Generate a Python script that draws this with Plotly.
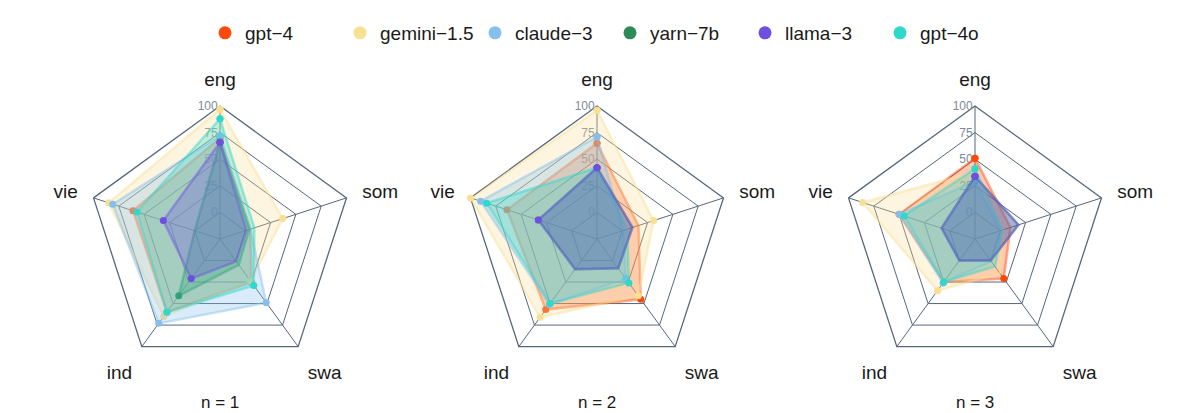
import plotly.graph_objects as go

# page is 1196x413 but the html body has an 8px margin
OFF = 8
W, H = 1196 - OFF, 413 - OFF

langs = ["eng", "som", "swa", "ind", "vie"]
models = ["gpt−4", "gemini−1.5", "claude−3", "yarn−7b", "llama−3", "gpt−4o"]
colors = ["#FF4A0A", "#F7DF94", "#86BFEB", "#2E8B57", "#6E4FE0", "#2ED8CB"]
panel_titles = ["n = 1", "n = 2", "n = 3"]

# scores per model, order follows langs
n1_gpt4    = [70, 5, 25, 60, 61]
n1_gemini  = [97, 37, 24, 65, 85]
n1_claude  = [72, 5, 49, 73, 81]
n1_yarn    = [66, 4, 5, 41, 0]
n1_llama   = [66, 1, 1, 21, 31]
n1_gpt4o   = [88, 9, 29, 60, 57]

n2_gpt4    = [65, 16, 45, 57, 64]
n2_gemini  = [96, 31, 41, 66, 100]
n2_claude  = [71, 1, 21, 51, 90]
n2_yarn    = [42, 10, 9, 10, 33]
n2_llama   = [42, 10, 9, 10, 33]
n2_gpt4o   = [42, 5, 26, 50, 84]

n3_gpt4    = [51, 10, 21, 25, 50]
n3_gemini  = [38, 3, 15, 35, 86]
n3_claude  = [29, 0, 1, 26, 50]
n3_yarn    = [34, 18, 0, 0, 8]
n3_llama   = [34, 18, 0, 0, 8]
n3_gpt4o   = [41, 2, 7, 25, 45]

panels = [
    [n1_gpt4, n1_gemini, n1_claude, n1_yarn, n1_llama, n1_gpt4o],
    [n2_gpt4, n2_gemini, n2_claude, n2_yarn, n2_llama, n2_gpt4o],
    [n3_gpt4, n3_gemini, n3_claude, n3_yarn, n3_llama, n3_gpt4o],
]
# llama is painted last so its outline sits on top
draw_order = [0, 1, 2, 3, 5, 4]

GRID = "#56677A"
FONT = "Liberation Sans, Arial, sans-serif"


def rgba(hexc, a):
    h = hexc.lstrip("#")
    return "rgba(%d,%d,%d,%s)" % (int(h[0:2], 16), int(h[2:4], 16), int(h[4:6], 16), a)


def px(x):
    return (x - OFF) / W


def py(y):
    return 1 - (y - OFF) / H


fig = go.Figure()

centers_px = [220, 597, 975]
R = 133
cy = 239

for p, rows in enumerate(panels):
    sub = "polar" if p == 0 else "polar%d" % (p + 1)
    for i in draw_order:
        c, vals = colors[i], rows[i]
        fig.add_trace(go.Scatterpolar(
            r=vals + vals[:1], theta=langs + langs[:1], subplot=sub,
            mode="lines+markers", fill="toself",
            fillcolor=rgba(c, 0.3), line=dict(color=rgba(c, 0.45), width=2.5),
            marker=dict(color=c, size=7), name=models[i], showlegend=False,
        ))

for name, c in zip(models, colors):
    fig.add_trace(go.Scatterpolar(r=[None], theta=[None], mode="markers",
                                  marker=dict(color=c, size=13), name=name, subplot="polar"))

polar_common = dict(
    bgcolor="rgba(0,0,0,0)",
    gridshape="linear",
    radialaxis=dict(range=[-25, 100], tickvals=[0, 25, 50, 75, 100], angle=90, tickangle=90,
                    side="counterclockwise", showline=False, gridcolor=GRID, gridwidth=1.2,
                    tickfont=dict(size=12, color="#7D8A99"), layer="below traces"),
    angularaxis=dict(direction="clockwise", rotation=90, showline=True, linecolor=GRID,
                     gridcolor=GRID, gridwidth=1.2, linewidth=1.3,
                     tickfont=dict(size=19, color="#1a1a1a"),
                     ticks="outside", ticklen=12, tickcolor="rgba(0,0,0,0)", layer="below traces"),
)

layout_polars = {}
for p, cx in enumerate(centers_px):
    key = "polar" if p == 0 else "polar%d" % (p + 1)
    d = dict(polar_common)
    d["domain"] = dict(x=[px(cx - R), px(cx + R)], y=[py(cy + R), py(cy - R)])
    layout_polars[key] = d

annotations = [
    dict(text=t, x=px(cx), y=py(402), xref="paper", yref="paper", showarrow=False,
         font=dict(size=17, color="#1a1a1a"), xanchor="center", yanchor="middle")
    for t, cx in zip(panel_titles, centers_px)
]

fig.update_layout(
    width=W, height=H,
    margin=dict(l=0, r=0, t=0, b=0),
    paper_bgcolor="white", plot_bgcolor="white",
    font=dict(family=FONT, color="#1a1a1a"),
    legend=dict(orientation="h", x=px(610), xanchor="center", y=py(33), yanchor="middle",
                font=dict(size=19), entrywidth=90, itemsizing="trace"),
    annotations=annotations,
    **layout_polars,
)

fig.write_html("out.html")
